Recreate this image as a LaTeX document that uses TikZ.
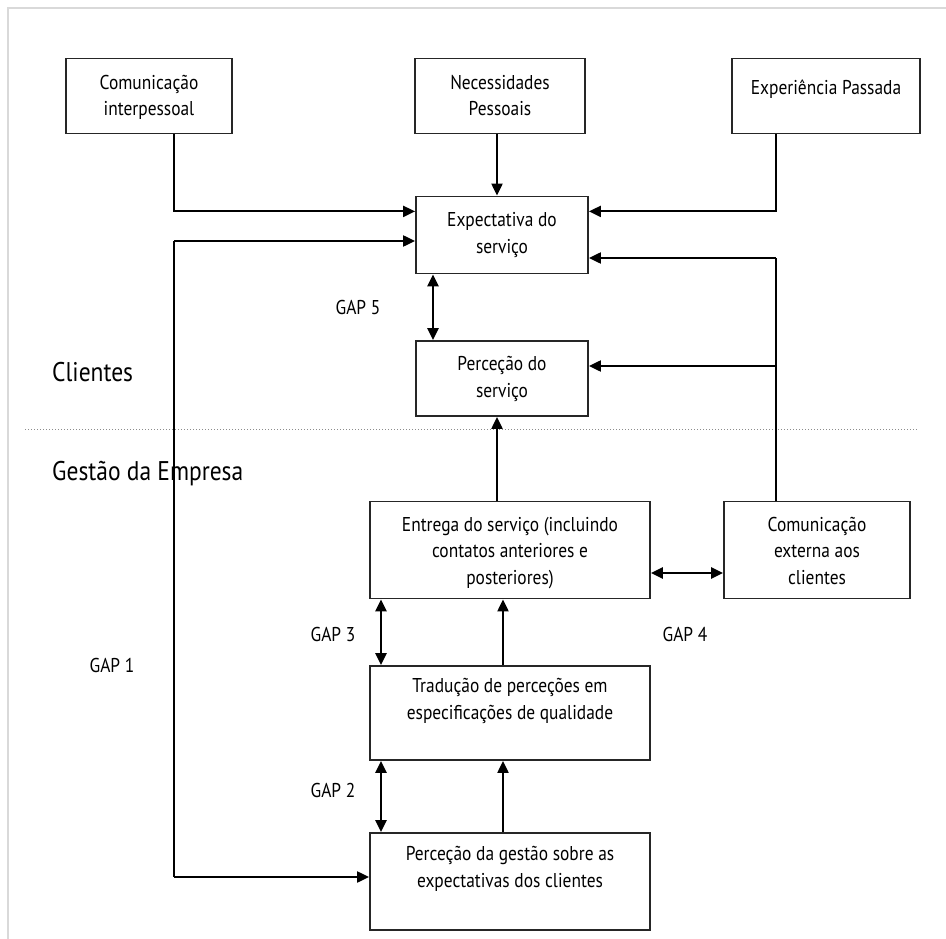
\documentclass[tikz,border=0pt]{standalone}
\usepackage{fontspec}
\setmainfont{PT Sans}[FakeStretch=0.87]
\usetikzlibrary{arrows.meta}
\begin{document}
\begin{tikzpicture}[x=1pt,y=-1pt,
  box/.style={draw=black!85, line width=1.8pt, minimum width=#1, inner sep=0pt},
  txt/.style={anchor=north, align=center, inner sep=0pt, font=\fontsize{20}{26.5}\selectfont, execute at begin node=\rule{0pt}{20pt}},
  gap/.style={font=\fontsize{20}{24}\selectfont, inner sep=0pt},
  side/.style={font=\fontsize{27}{30}\selectfont, inner sep=0pt, anchor=base west},
  arr/.style={line width=2.1pt, -{Triangle[length=12pt,width=11pt]}},
  darr/.style={line width=2.8pt, {Triangle[length=12pt,width=11pt]}-{Triangle[length=12pt,width=11pt]}},
  ln/.style={line width=1.4pt}
]
\useasboundingbox (0,0) rectangle (946,939);
\fill[white] (0,0) rectangle (946,939);
% frame
\draw[black!15, line width=2pt] (8,939) -- (8,8) -- (946,8);

% boxes
\node[box=166pt, minimum height=75pt] (ci) at (149,96) {};
\node[box=170pt, minimum height=75pt] (np) at (500,96) {};
\node[box=188pt, minimum height=75pt] (ep) at (826,96) {};
\node[box=172pt, minimum height=77pt] (es) at (502,235) {};
\node[box=172pt, minimum height=75pt] (ps) at (502,378.5) {};
\node[box=280pt, minimum height=97pt] (en) at (510,550) {};
\node[box=186pt, minimum height=97pt] (ce) at (817,550) {};
\node[box=280pt, minimum height=94pt] (tr) at (510,713) {};
\node[box=280pt, minimum height=97pt] (pg) at (510,881.5) {};

% texts
\node[txt] at ([yshift=-17pt]ci.north) {Comunicação\\interpessoal};
\node[txt] at ([yshift=-17pt]np.north) {Necessidades\\Pessoais};
\node[txt] at ([yshift=-17pt]ep.north) {Experiência Passada};
\node[txt] at ([yshift=-17pt]es.north) {Expectativa do\\serviço};
\node[txt] at ([yshift=-16pt]ps.north) {Perceção do\\serviço};
\node[txt] at ([yshift=-16pt]en.north) {Entrega do serviço (incluindo\\contatos anteriores e\\posteriores)};
\node[txt] at ([yshift=-16pt]ce.north) {Comunicação\\externa aos\\clientes};
\node[txt] at ([yshift=-13pt]tr.north) {Tradução de perceções em\\especificações de qualidade};
\node[txt] at ([yshift=-14pt]pg.north) {Perceção da gestão sobre as\\expectativas dos clientes};

% side labels
\node[side] (cl) at (52,381) {Clientes};
\node[side] (ge) at (52,480) {Gestão da Empresa};
\draw[black!45, line width=1pt, dotted] (25,429) coordinate (d1) -- (918,429) coordinate (d2);

% gap labels
\node[gap] (g5) at (358,307) {GAP 5};
\node[gap] (g3) at (333,634) {GAP 3};
\node[gap] (g4) at (685,634) {GAP 4};
\node[gap] (g2) at (333,790) {GAP 2};
\node[gap] (g1) at (112,665) {GAP 1};

% connectors top
\draw[arr] (ci.south -| 174,0) -- ++(0,77) coordinate (c1) -- (es.west |- c1);
\draw[arr] (np.south -| 497,0) -- (es.north -| 497,0);
\draw[arr] (ep.south -| 776,0) -- ++(0,77) coordinate (c3) -- (es.east |- c3);

% GAP 1 loop
\coordinate (g1top) at (174,241);
\coordinate (g1bot) at (174,877);
\draw[ln] (g1top) -- (g1bot);
\draw[arr] (g1top) -- (es.west |- g1top);
\draw[arr] (g1bot) -- (pg.west |- g1bot);

% GAP 5
\draw[darr] (es.south -| 433,0) -- (ps.north -| 433,0);

% external communication
\coordinate (cetop) at (776,258);
\draw[ln] (ce.north -| cetop) -- (cetop);
\draw[arr] (cetop) -- (es.east |- cetop);
\draw[arr] (ce.north -| cetop) |- (ps.east |- 0,366);

% entrega -> perceção
\draw[arr] (en.north -| 497,0) -- (ps.south -| 497,0);
\draw[darr] (en.east |- 0,573) -- (ce.west |- 0,573);

% GAP 3 / GAP 2
\draw[darr] (en.south -| 381,0) -- (tr.north -| 381,0);
\draw[arr] (tr.north -| 503,0) -- (en.south -| 503,0);
\draw[darr] (tr.south -| 381,0) -- (pg.north -| 381,0);
\draw[arr] (pg.north -| 503,0) -- (tr.south -| 503,0);
\end{tikzpicture}
\end{document}
